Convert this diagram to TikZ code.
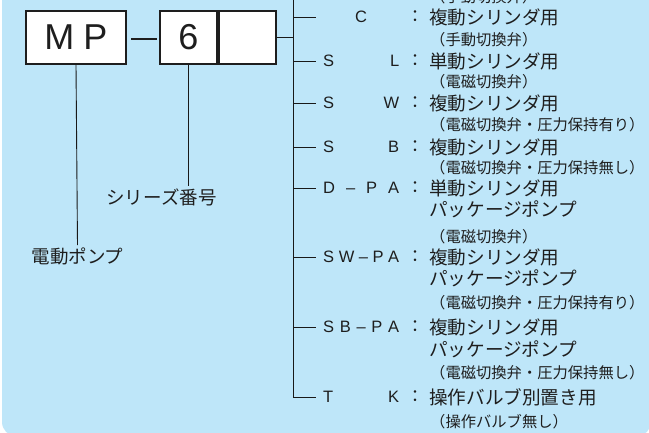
\documentclass[tikz,border=0pt]{standalone}
\usepackage{fontspec}
\setmainfont{Liberation Sans}
\newfontfamily\jp{Noto Sans CJK JP}
\usetikzlibrary{positioning}
\definecolor{bgblue}{HTML}{BEE6F9}
\definecolor{ink}{HTML}{1E1E1E}
\newcommand{\codeword}[1]{\makebox[76pt][s]{#1}}

\begin{document}
\begin{tikzpicture}[x=1pt,y=-1pt,
    mpbox/.style={draw=ink,line width=1.2pt,fill=white,minimum height=53pt,inner sep=0pt,text=ink,font=\fontsize{36}{36}\selectfont},
    codetext/.style={anchor=west,inner sep=0pt,text=ink,font=\fontsize{16.5}{17}\selectfont},
    colonmark/.style={inner sep=0pt,text=ink,font=\jp\fontsize{17}{17}\selectfont},
    desctext/.style={anchor=west,inner sep=0pt,text=ink,font=\jp\fontsize{18.6}{20}\selectfont},
    subnote/.style={anchor=west,inner sep=0pt,text=ink,font=\jp\fontsize{15.3}{16}\selectfont},
    partname/.style={inner sep=2pt,text=ink,font=\jp\fontsize{18.5}{20}\selectfont},
    wire/.style={line width=0.9pt,draw=black!90}]
    \useasboundingbox (0,0) rectangle (649,432);
    \clip (0,0) rectangle (649,432);
    \fill[bgblue,rounded corners=14pt] (2,-20) rectangle (651,436);

    % model code
    \node[mpbox,minimum width=100pt] (mp) at (76,37.5) {M\hspace{9pt}P};
    \node[inner sep=0pt,text=ink] (dash) at (144,39) {\rule{26pt}{2.6pt}};
    \node[mpbox,minimum width=57pt] (six) at (188.5,37.5) {6};
    \node[mpbox,minimum width=57pt] (blank) at (247.5,37.5) {};

    \node[partname] (series) at (161.5,197) {シリーズ番号};
    \node[partname] (pump) at (77.5,256) {電動ポンプ};
    \draw[wire] (mp.south) -- (pump.north);
    \draw[wire] (six.south) -- (six.south |- series.north);

    % type branches
    \coordinate (ttop) at (293,-10);
    \coordinate (tend) at (293,397);
    \draw[wire] (ttop) -- (tend);
    \draw[wire] (blank.east) -- (blank.east -| ttop);
    \foreach \n/\y/\w/\d in {c/17/{\hfil C\hfil}/複動シリンダ用,
                             sl/61/{S\hfill L}/単動シリンダ用,
                             sw/103/{S\hfill W}/複動シリンダ用,
                             sb/147/{S\hfill B}/複動シリンダ用,
                             dpa/188/{D\hfill –\hfill P\hfill A}/単動シリンダ用,
                             swpa/257/{S\hfill W\hfill –\hfill P\hfill A}/複動シリンダ用,
                             sbpa/327/{S\hfill B\hfill –\hfill P\hfill A}/複動シリンダ用,
                             tk/397/{T\hfill K}/操作バルブ別置き用}{
        \node[codetext] (\n) at (323,\y) {\codeword{\w}};
        \node[colonmark] (\n-colon) at (415,\y) {：};
        \node[desctext] (\n-desc) at (429,\y) {\d};
        \draw[wire] (ttop |- \n.west) -- ([xshift=-7pt]\n.west);
    }
    \node[desctext] (dpa-pkg) at (429,209) {パッケージポンプ};
    \node[desctext] (swpa-pkg) at (429,278) {パッケージポンプ};
    \node[desctext] (sbpa-pkg) at (429,349) {パッケージポンプ};

    \node[subnote] (top-note) at (430,-3) {（手動切換弁）};
    \node[subnote] (c-note) at (430,40) {（手動切換弁）};
    \node[subnote] (sl-note) at (430,82) {（電磁切換弁）};
    \node[subnote] (sw-note) at (430,125) {（電磁切換弁・圧力保持有り）};
    \node[subnote] (sb-note) at (430,168) {（電磁切換弁・圧力保持無し）};
    \node[subnote] (dpa-note) at (430,237) {（電磁切換弁）};
    \node[subnote] (swpa-note) at (430,303) {（電磁切換弁・圧力保持有り）};
    \node[subnote] (sbpa-note) at (430,373) {（電磁切換弁・圧力保持無し）};
    \node[subnote] (tk-note) at (430,422) {（操作バルブ無し）};
\end{tikzpicture}
\end{document}
